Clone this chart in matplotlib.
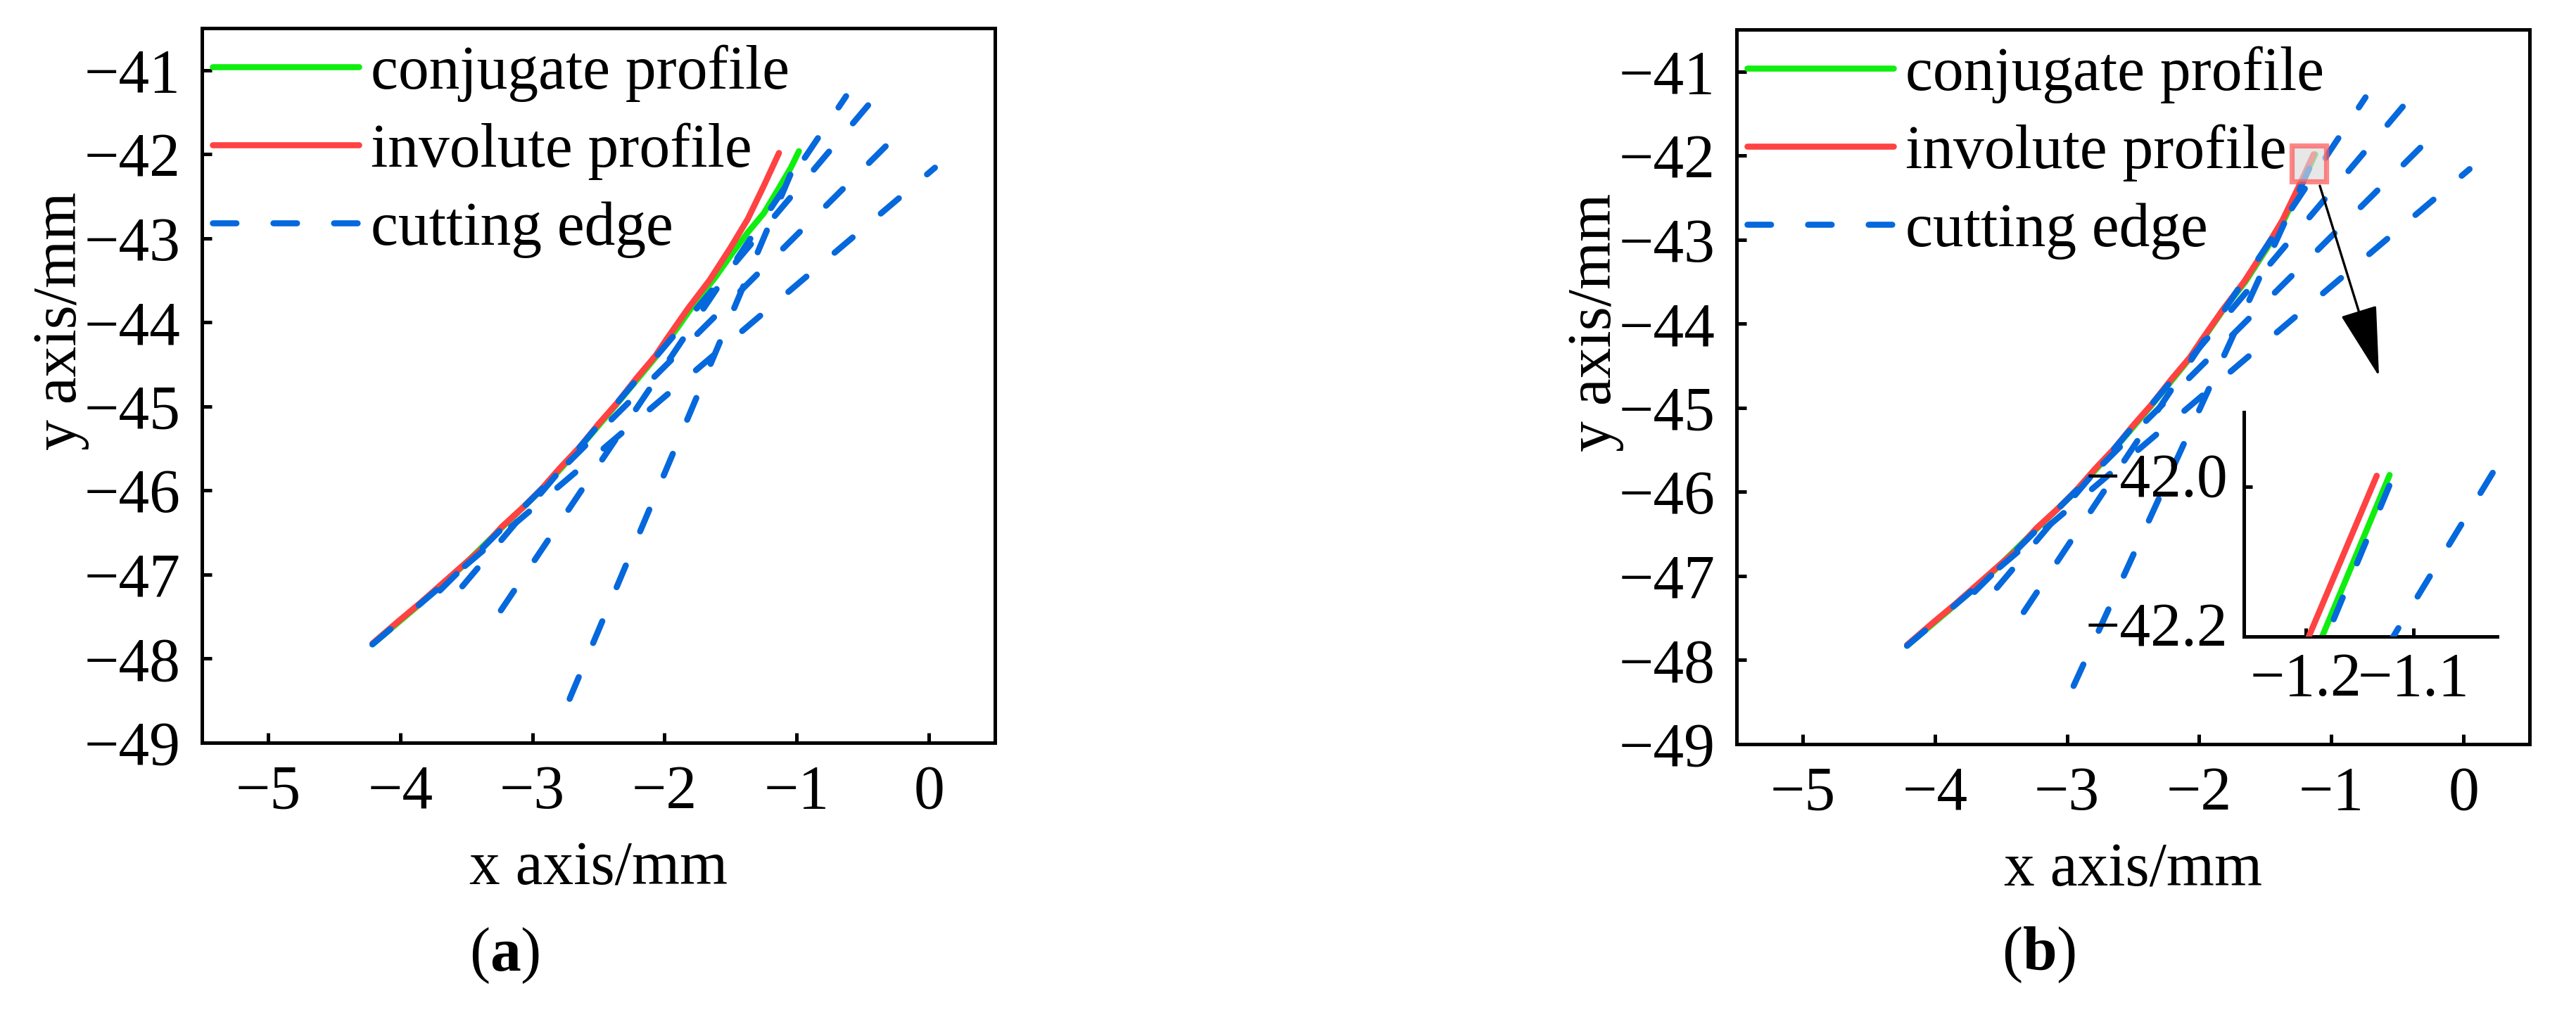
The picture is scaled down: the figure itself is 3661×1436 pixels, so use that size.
import matplotlib.pyplot as plt
from matplotlib.patches import Rectangle
from matplotlib.transforms import ScaledTranslation

plt.rcParams['font.family'] = ['Liberation Serif', 'DejaVu Serif']
plt.rcParams['mathtext.fontset'] = 'custom'
plt.rcParams['mathtext.rm'] = 'Liberation Serif'
plt.rcParams['mathtext.bf'] = 'Liberation Serif:bold'

# involute profile (same in both panels)
invo_x = [-4.21, -4.01, -3.85, -3.54, -3.38, -3.23, -3.07, -2.93, -2.79, -2.64, -2.50,
          -2.36, -2.21, -2.07, -1.98, -1.82, -1.66, -1.50, -1.37, -1.25, -1.134]
invo_y = [-47.82, -47.55, -47.34, -46.91, -46.69, -46.43, -46.20, -45.98, -45.73, -45.48, -45.21,
          -44.96, -44.66, -44.40, -44.19, -43.83, -43.50, -43.11, -42.77, -42.38, -41.985]

# conjugate profile, panel (a)
conj_a_x = [-4.21, -3.85, -3.54, -3.23, -2.93, -2.64, -2.36, -2.07, -1.90, -1.78, -1.614,
            -1.493, -1.370, -1.248, -1.126, -1.044, -0.983]
conj_a_y = [-47.83, -47.35, -46.92, -46.44, -45.99, -45.49, -44.97, -44.42, -44.06, -43.79, -43.46,
            -43.19, -42.93, -42.70, -42.38, -42.16, -41.964]

# conjugate profile, panel (b)
conj_b_x = [-4.21, -3.85, -3.54, -3.23, -2.93, -2.64, -2.36, -2.07, -1.82, -1.65, -1.49,
            -1.36, -1.237, -1.122]
conj_b_y = [-47.83, -47.35, -46.92, -46.44, -45.99, -45.49, -44.97, -44.41, -43.84, -43.50, -43.11,
            -42.77, -42.38, -41.984]

# cutting edge positions (start / end of each straight edge)
edges_a_x = [(-4.21, 0.046), (-3.70, -0.159), (-3.53, -0.45), (-3.238, -0.626), (-2.718, -0.98)]
edges_a_y = [(-47.83, -42.16), (-47.19, -41.643), (-47.14, -41.40), (-47.426, -41.309), (-48.478, -41.99)]
edges_b_x = [(-4.21, 0.046), (-3.70, -0.159), (-3.53, -0.45), (-3.327, -0.741), (-2.950, -1.110)]
edges_b_y = [(-47.83, -42.16), (-47.19, -41.643), (-47.14, -41.40), (-47.429, -41.306), (-48.308, -41.956)]

x_ticks = [-5, -4, -3, -2, -1, 0]
y_ticks = [-49, -48, -47, -46, -45, -44, -43, -42, -41]
inset_x_ticks = [-1.2, -1.1]
inset_x_labels = ['\u22121.2', '\u22121.1']
inset_y_ticks = [-42.2, -42.0]
inset_y_labels = ['\u221242.2', '\u221242.0']

GREEN = '#10ee10'
RED = '#ff4242'
BLUE = '#0568dc'
LW = 3.1
DASH = (0, (3.9, 6.1))
FS = 31.5


def style_axes(ax):
    ax.set_xlim(-5.5, 0.5)
    ax.set_ylim(-49, -40.5)
    ax.set_xticks(x_ticks)
    ax.set_yticks(y_ticks)
    ax.tick_params(direction='in', length=5, width=1.8, labelsize=FS, pad=11,
                   top=False, right=False)
    for sp in ax.spines.values():
        sp.set_linewidth(1.8)
    ax.set_xlabel('x axis/mm', fontsize=FS)
    ax.set_ylabel('y axis/mm', fontsize=FS)
    ax.xaxis.label.set_va('center')
    ax.yaxis.label.set_va('center')
    ax.xaxis.set_label_coords(0.5, -0.177)
    ax.yaxis.set_label_coords(-0.178, 0.59)


def draw_panel(ax, cx, cy, ex_list, ey_list):
    ax.plot(cx, cy, color=GREEN, lw=LW, solid_capstyle='round', zorder=2,
            label='conjugate profile')
    ax.plot(invo_x, invo_y, color=RED, lw=LW, solid_capstyle='round', zorder=3,
            label='involute profile')
    for i, (ex, ey) in enumerate(zip(ex_list, ey_list)):
        ax.plot(ex, ey, color=BLUE, lw=LW, ls=DASH, dash_capstyle='round', zorder=4,
                label='cutting edge' if i == 0 else None)
    style_axes(ax)
    ax.legend(loc='upper left', bbox_to_anchor=(0.013, 0.977), frameon=False,
              fontsize=FS, handlelength=2.38, handletextpad=0.2, labelspacing=0.34,
              borderpad=0, borderaxespad=0)


fig = plt.figure(figsize=(18.305, 7.18), dpi=200)
fig.patch.set_facecolor('white')

ax_a = fig.add_axes([0.07839, 0.26462, 0.30784, 0.70752])
ax_b = fig.add_axes([0.67413, 0.26323, 0.30784, 0.70752])

draw_panel(ax_a, conj_a_x, conj_a_y, edges_a_x, edges_a_y)
draw_panel(ax_b, conj_b_x, conj_b_y, edges_b_x, edges_b_y)

# zoom window marker and arrow in (b)
ax_b.add_patch(Rectangle((-1.302, -42.310), 0.265, 0.432, facecolor=(0.86, 0.86, 0.86, 0.65),
                         edgecolor=(1.0, 0.33, 0.33, 0.7), lw=2.6, zorder=5))
ax_b.annotate('', xy=(-0.639, -44.626), xytext=(-1.087, -42.358),
              arrowprops=dict(arrowstyle='-|>,head_length=3.2,head_width=0.85',
                              mutation_scale=10, lw=1.2, color='black',
                              shrinkA=0, shrinkB=0), zorder=6)

# inset
ax_in = fig.add_axes([0.87107, 0.36978, 0.09833, 0.22214])
ax_in.patch.set_alpha(0)
ax_in.plot(conj_b_x, conj_b_y, color=GREEN, lw=LW, solid_capstyle='round', zorder=2)
ax_in.plot(invo_x, invo_y, color=RED, lw=LW, solid_capstyle='round', zorder=3)
for ex, ey in zip(edges_b_x, edges_b_y):
    ax_in.plot(ex, ey, color=BLUE, lw=LW, ls=DASH, dash_capstyle='round', zorder=4)
ax_in.set_xlim(-1.2575, -1.022)
ax_in.set_ylim(-42.2, -41.9)
ax_in.set_xticks(inset_x_ticks, labels=inset_x_labels)
ax_in.set_yticks(inset_y_ticks, labels=inset_y_labels)
ax_in.spines['top'].set_visible(False)
ax_in.spines['right'].set_visible(False)
for sp in ('left', 'bottom'):
    ax_in.spines[sp].set_linewidth(1.8)
ax_in.tick_params(direction='in', length=4.3, width=1.8, labelsize=FS, pad=8,
                  top=False, right=False)
shift = ScaledTranslation(0, 6.5 / 72, fig.dpi_scale_trans)
for lab in ax_in.get_yticklabels():
    lab.set_transform(lab.get_transform() + shift)

fig.text(0.1958, 0.0536, r'($\mathbf{a}$)', fontsize=FS, ha='center', va='center')
fig.text(0.7915, 0.0543, r'($\mathbf{b}$)', fontsize=FS, ha='center', va='center')

fig.savefig('out.png', dpi=200, facecolor='white')
